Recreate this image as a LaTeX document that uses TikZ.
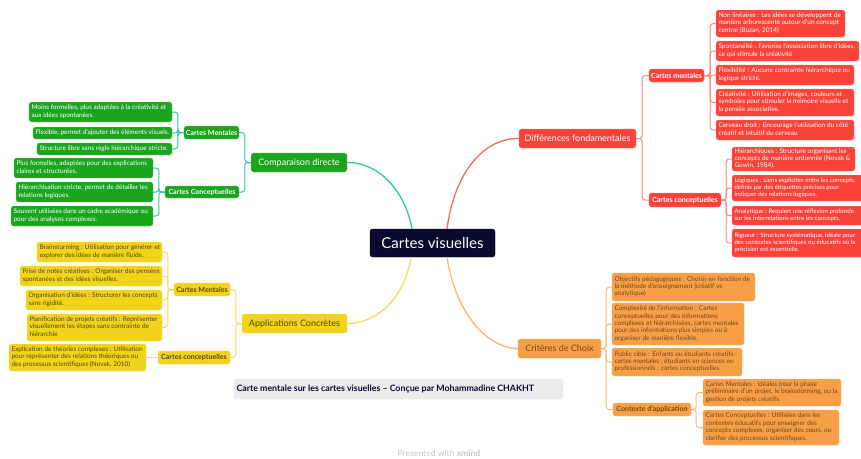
\documentclass[tikz,border=0pt]{standalone}
\usepackage{fontspec}
\setmainfont{Lato}
\definecolor{cdark}{HTML}{0A0A2E}
\definecolor{cred}{HTML}{F9423A}
\definecolor{cgreen}{HTML}{1BA51F}
\definecolor{cyel}{HTML}{F0D31A}
\definecolor{cora}{HTML}{F79F46}
\definecolor{lred}{HTML}{FB8A84}
\definecolor{lgreen}{HTML}{2CCB9C}
\definecolor{lyel}{HTML}{F6DE55}
\definecolor{lora}{HTML}{F9B878}
\tikzset{
  basebox/.style={rounded corners=2.5pt,inner sep=0pt,line width=0.4pt,font=\fontsize{6.5}{7.35}\selectfont},
  redbox/.style={basebox,fill=cred,draw=lred,text=white},
  edgefit/.style={font=\fontsize{6.1}{7.35}\selectfont},
  greenbox/.style={basebox,fill=cgreen,draw=cgreen!60!white,text=white},
  yelbox/.style={basebox,fill=cyel,draw=lyel,text=black!65!cyel},
  orabox/.style={basebox,fill=cora,draw=lora,text=black!55!cora},
  subfont/.style={font=\fontsize{7.1}{8}\selectfont\bfseries},
  mainfont/.style={font=\fontsize{9}{11}\selectfont},
  redcon/.style={draw=lred,line width=1pt,rounded corners=3pt},
  greencon/.style={draw=lgreen,line width=1pt,rounded corners=3pt},
  yelcon/.style={draw=lyel,line width=1pt,rounded corners=3pt},
  oracon/.style={draw=lora,line width=1pt,rounded corners=3pt},
}
% left-aligned multi-line box: style,name,x0,y0,x1,y1,lines
\newcommand\bx[7]{%
  \pgfmathsetmacro\bw{#5-#3}\pgfmathsetmacro\bh{#6-#4}\pgfmathsetmacro\bt{#5-#3-5}%
  \node[#1,minimum width=\bw pt,minimum height=\bh pt] (#2) at ({(#3+#5)/2},{(#4+#6)/2})
    {\makebox[\bt pt][l]{\begin{tabular}{@{}l@{}}#7\end{tabular}}};}
% centred label: style,name,x0,y0,x1,y1,text
\newcommand\lb[7]{%
  \pgfmathsetmacro\bw{#5-#3}\pgfmathsetmacro\bh{#6-#4}%
  \node[#1,minimum width=\bw pt,minimum height=\bh pt] (#2) at ({(#3+#5)/2},{(#4+#6)/2}) {#7};}
\newcommand\rlink[4]{\draw[#1] (#2.east) -- ++(#4,0) |- (#3.west);}
\newcommand\llink[4]{\draw[#1] (#2.west) -- ++(-#4,0) |- (#3.east);}
\begin{document}
\begin{tikzpicture}[x=1pt,y=-1pt]
\useasboundingbox (0,0) rectangle (861,458);
\fill[white] (0,0) rectangle (861,458);

% centre
\lb{basebox,fill=cdark,draw=cdark,text=white,font=\fontsize{15}{18}\selectfont}{central}{370}{229}{495}{257}{Cartes visuelles}

% main branches
\lb{redbox,mainfont}{diff}{519}{129}{636}{148}{Différences fondamentales}
\lb{greenbox,mainfont}{comp}{251}{153}{347}{172}{Comparaison directe}
\lb{yelbox,mainfont}{appl}{242}{314}{347}{333}{Applications Concrètes}
\lb{orabox,mainfont}{crit}{518}{339}{601}{358}{Critères de Choix}

\draw[draw=lgreen,line width=1.3pt] (comp.east) .. controls (378,162) and (405,190) .. ([xshift=-20.5pt]central.north);
\draw[draw=cred!80!white,line width=1.3pt] ([xshift=14.5pt]central.north) .. controls (455,170) and (485,138) .. (diff.west);
\draw[draw=lyel,line width=1.3pt] ([xshift=-21.5pt]central.south) .. controls (405,295) and (380,323) .. (appl.east);
\draw[draw=lora,line width=1.3pt] ([xshift=14.5pt]central.south) .. controls (455,310) and (485,348) .. (crit.west);

% red
\lb{redbox,subfont}{rcm}{649}{69}{704}{82}{Cartes mentales}
\lb{redbox,subfont}{rcc}{649}{193}{721}{207}{Cartes conceptuelles}
\bx{redbox}{r1}{716}{10}{845}{37}{Non linéaires : Les idées se développent de\\manière arborescente autour d’un concept\\central (Buzan, 2014)}
\bx{redbox}{r2}{716}{41}{859}{61}{Spontanéité : Favorise l’association libre d’idées,\\ce qui stimule la créativité}
\bx{redbox}{r3}{716}{65}{854}{85}{Flexibilité : Aucune contrainte hiérarchique ou\\logique stricte.}
\bx{redbox}{r4}{716}{89}{854}{116}{Créativité : Utilisation d’images, couleurs et\\symboles pour stimuler la mémoire visuelle et\\la pensée associative.}
\bx{redbox}{r5}{716}{120}{854}{140}{Cerveau droit : Encourage l’utilisation du côté\\créatif et intuitif du cerveau}
\bx{redbox}{r6}{732}{147}{855}{171}{Hiérarchiques : Structure organisant les\\concepts de manière ordonnée (Novak \&\\Gowin, 1984).}
\bx{redbox,edgefit}{r7}{732}{175}{880}{201}{Logiques : Liens explicites entre les concepts,\\définis par des étiquettes précises pour\\indiquer des relations logiques.}
\bx{redbox,edgefit}{r8}{732}{206}{880}{225}{Analytique : Requiert une réflexion profonde\\sur les interrelations entre les concepts.}
\bx{redbox,edgefit}{r9}{732}{229}{880}{257}{Rigueur : Structure systématique, idéale pour\\des contextes scientifiques ou éducatifs où la\\précision est essentielle.}
\rlink{redcon}{diff}{rcm}{6}
\rlink{redcon}{diff}{rcc}{6}
\rlink{redcon}{rcm}{r1}{6}
\rlink{redcon}{rcm}{r2}{6}
\rlink{redcon}{rcm}{r3}{6}
\rlink{redcon}{rcm}{r4}{6}
\rlink{redcon}{rcm}{r5}{6}
\rlink{redcon}{rcc}{r6}{5}
\rlink{redcon}{rcc}{r7}{5}
\rlink{redcon}{rcc}{r8}{5}
\rlink{redcon}{rcc}{r9}{5}

% orange
\bx{orabox}{o1}{612}{273}{755}{301}{Objectifs pédagogiques : Choisir en fonction de\\la méthode d’enseignement (créatif vs\\analytique)}
\bx{orabox}{o2}{612}{303}{744}{345}{Complexité de l’information : Cartes\\conceptuelles pour des informations\\complexes et hiérarchisées, cartes mentales\\pour des informations plus simples ou à\\organiser de manière flexible.}
\bx{orabox}{o3}{612}{348}{742}{376}{Public cible : Enfants ou étudiants créatifs :\\cartes mentales ; étudiants en sciences ou\\professionnels : cartes conceptuelles.}
\lb{orabox,subfont}{oca}{613}{403}{691}{416}{Contexte d’application}
\bx{orabox}{o4}{703}{379}{841}{406}{Cartes Mentales : Idéales pour la phase\\préliminaire d’un projet, le brainstorming, ou la\\gestion de projets créatifs.}
\bx{orabox}{o5}{703}{410}{839}{445}{Cartes Conceptuelles : Utilisées dans les\\contextes éducatifs pour enseigner des\\concepts complexes, organiser des cours, ou\\clarifier des processus scientifiques.}
\rlink{oracon}{crit}{o1}{5}
\rlink{oracon}{crit}{o2}{5}
\rlink{oracon}{crit}{o3}{5}
\rlink{oracon}{crit}{oca}{5}
\rlink{oracon}{oca}{o4}{5}
\rlink{oracon}{oca}{o5}{5}

% green
\lb{greenbox,subfont}{gcm}{184}{126}{239}{139}{Cartes Mentales}
\lb{greenbox,subfont}{gcc}{165}{186}{239}{198}{Cartes Conceptuelles}
\bx{greenbox}{g1}{29}{102}{172}{122}{Moins formelles, plus adaptées à la créativité et\\aux idées spontanées.}
\bx{greenbox}{g2}{33}{127}{172}{139}{Flexible, permet d’ajouter des éléments visuels.}
\bx{greenbox}{g3}{37}{143}{172}{155}{Structure libre sans règle hiérarchique stricte.}
\bx{greenbox}{g4}{14}{158}{153}{178}{Plus formelles, adaptées pour des explications\\claires et structurées.}
\bx{greenbox}{g5}{16}{182}{153}{202}{Hiérarchisation stricte, permet de détailler les\\relations logiques.}
\bx{greenbox}{g6}{11}{206}{153}{226}{Souvent utilisées dans un cadre académique ou\\pour des analyses complexes.}
\llink{greencon}{comp}{gcm}{6}
\llink{greencon}{comp}{gcc}{6}
\llink{greencon}{gcm}{g1}{6}
\llink{greencon}{gcm}{g2}{6}
\llink{greencon}{gcm}{g3}{6}
\llink{greencon}{gcc}{g4}{6}
\llink{greencon}{gcc}{g5}{6}
\llink{greencon}{gcc}{g6}{6}

% yellow
\lb{yelbox,subfont}{ycm}{174}{283}{230}{296}{Cartes Mentales}
\lb{yelbox,subfont}{ycc}{158}{351}{230}{364}{Cartes conceptuelles}
\bx{yelbox}{y1}{37}{242}{162}{262}{Brainstorming : Utilisation pour générer et\\explorer des idées de manière fluide.}
\bx{yelbox}{y2}{20}{266}{162}{286}{Prise de notes créatives : Organiser des pensées\\spontanées et des idées visuelles.}
\bx{yelbox}{y3}{26}{290}{162}{310}{Organisation d’idées : Structurer les concepts\\sans rigidité.}
\bx{yelbox}{y4}{27}{314}{162}{341}{Planification de projets créatifs : Représenter\\visuellement les étapes sans contrainte de\\hiérarchie}
\bx{yelbox}{y5}{9}{344}{146}{371}{Explication de théories complexes : Utilisation\\pour représenter des relations théoriques ou\\des processus scientifiques (Novak, 2010)}
\llink{yelcon}{appl}{ycm}{6}
\llink{yelcon}{appl}{ycc}{6}
\llink{yelcon}{ycm}{y1}{6}
\llink{yelcon}{ycm}{y2}{6}
\llink{yelcon}{ycm}{y3}{6}
\llink{yelcon}{ycm}{y4}{6}
\draw[yelcon] (ycc.west) -- (y5.east);

% caption and footer
\bx{basebox,fill=black!8,draw=black!8,text=cdark,font=\fontsize{8.8}{10}\selectfont\bfseries}{capt}{234}{379}{563}{399}{Carte mentale sur les cartes visuelles – Conçue par Mohammadine CHAKHT}
\node[inner sep=0pt,text=black!22,font=\fontsize{8.6}{10}\selectfont] (pres) at (439,453) {Presented with \textbf{xmind}};
\end{tikzpicture}
\end{document}
